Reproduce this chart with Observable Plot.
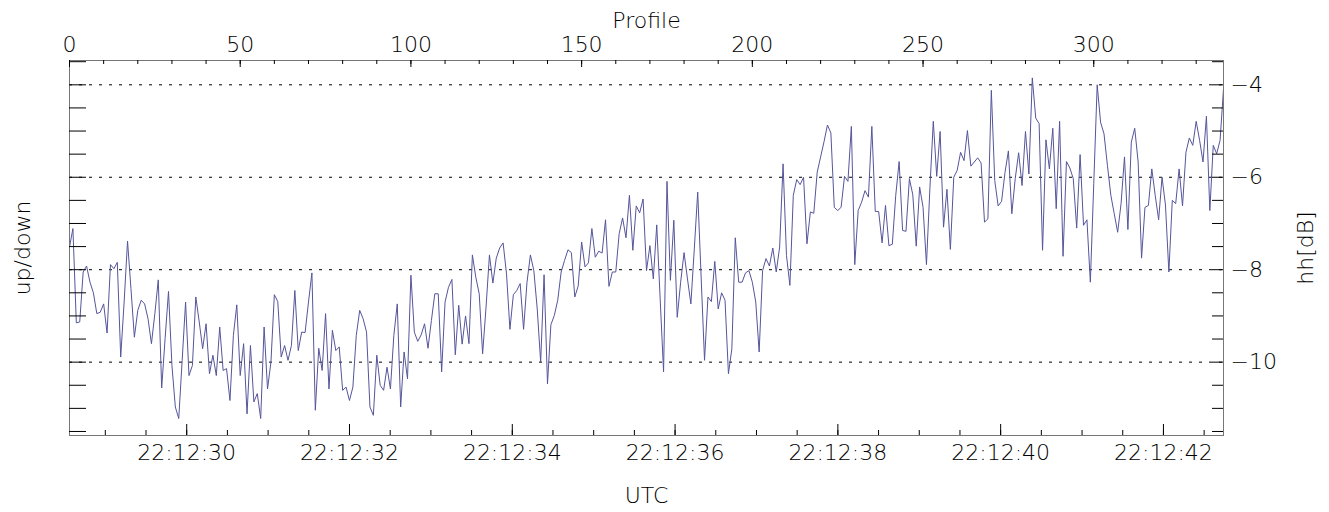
<!DOCTYPE html>
<html>
<head>
<meta charset="utf-8">
<script src="https://cdn.jsdelivr.net/npm/d3@7"></script>
<script src="https://cdn.jsdelivr.net/npm/@observablehq/plot@0.6"></script>
<style>
  html, body { margin: 0; padding: 0; background: #fff; }
</style>
</head>
<body>
<div id="chart"></div>
<script>
// hh [dB] per profile (profile number = index, 0..338)
const hhValues = [
 -7.51,-7.11,-9.15,-9.13,-8.05,-7.92,-8.27,-8.50,-8.95,-8.92,
 -8.74,-9.37,-7.89,-7.98,-7.84,-9.89,-8.70,-7.38,-8.41,-9.46,
 -8.88,-8.66,-8.74,-9.06,-9.60,-8.95,-8.22,-10.56,-9.49,-8.47,
 -10.07,-10.97,-11.22,-9.96,-8.70,-10.29,-10.07,-8.59,-9.13,-9.71,
 -9.17,-10.25,-9.85,-10.29,-9.24,-10.18,-10.14,-10.83,-9.42,-8.76,
 -10.29,-9.60,-11.12,-9.64,-10.86,-10.68,-11.22,-9.24,-10.58,-10.00,
 -8.54,-8.69,-9.89,-9.64,-9.96,-9.64,-8.45,-9.75,-9.35,-9.36,
 -8.70,-8.07,-11.04,-9.70,-10.18,-8.95,-10.58,-9.31,-9.75,-9.67,
 -10.61,-10.54,-10.83,-10.54,-9.42,-8.88,-9.06,-9.35,-10.97,-11.15,
 -9.85,-10.50,-10.61,-10.11,-10.58,-9.42,-8.74,-10.97,-9.78,-10.36,
 -8.12,-9.35,-9.55,-9.41,-9.17,-9.70,-9.10,-8.52,-8.52,-10.21,
 -8.70,-8.38,-8.21,-9.84,-8.77,-9.61,-9.00,-9.60,-7.68,-8.16,
 -8.52,-9.82,-8.81,-7.68,-8.29,-7.75,-7.53,-7.42,-8.09,-9.29,
 -8.54,-8.45,-8.30,-9.29,-8.27,-7.68,-8.02,-8.85,-10.00,-8.11,
 -10.47,-9.19,-8.99,-8.66,-8.05,-7.80,-7.57,-7.63,-8.59,-8.35,
 -7.40,-7.94,-7.85,-7.11,-7.73,-7.60,-7.64,-6.92,-8.36,-8.05,
 -8.05,-7.22,-6.88,-7.31,-6.39,-7.58,-6.62,-6.77,-6.47,-8.02,
 -7.48,-8.20,-7.03,-8.63,-10.21,-6.09,-8.23,-6.93,-9.03,-8.27,
 -7.63,-8.20,-8.74,-7.55,-6.32,-8.16,-9.96,-8.59,-8.69,-7.82,
 -8.85,-8.50,-8.66,-10.25,-9.71,-7.31,-8.27,-8.27,-8.07,-8.02,
 -8.27,-8.70,-9.78,-8.02,-7.76,-7.92,-7.53,-8.05,-7.51,-5.71,
 -7.69,-8.34,-6.39,-6.05,-6.16,-6.00,-7.44,-6.75,-6.78,-5.89,
 -5.56,-5.23,-4.87,-5.04,-6.65,-6.72,-6.65,-5.98,-6.09,-4.90,
 -7.89,-6.72,-6.54,-6.29,-6.43,-4.90,-6.74,-6.74,-7.42,-6.61,
 -7.48,-7.45,-6.39,-5.66,-7.15,-7.17,-6.03,-6.38,-7.49,-6.21,
 -6.65,-7.89,-6.25,-4.79,-5.98,-5.01,-7.08,-6.26,-7.56,-6.00,
 -5.85,-5.46,-5.64,-4.99,-5.76,-5.67,-5.58,-5.69,-6.97,-6.90,
 -4.12,-6.07,-6.62,-6.52,-5.90,-5.43,-6.79,-6.03,-5.47,-6.18,
 -5.01,-5.93,-3.85,-4.72,-4.84,-7.58,-5.19,-5.82,-4.94,-6.68,
 -4.79,-7.71,-5.66,-5.80,-6.03,-7.10,-5.51,-7.04,-6.92,-8.27,
 -6.14,-4.00,-4.81,-5.06,-5.74,-6.39,-6.79,-7.19,-6.57,-5.56,
 -7.13,-5.24,-4.94,-5.67,-7.75,-6.65,-6.61,-5.82,-6.39,-6.92,
 -6.00,-6.60,-8.05,-6.50,-6.57,-5.82,-6.62,-5.46,-5.15,-5.31,
 -4.79,-5.20,-5.67,-4.68,-6.72,-5.31,-5.49,-5.20,-4.09
];

// Top axis (Profile)
const profileLabels = [0, 50, 100, 150, 200, 250, 300];
const profileMinorTicks = d3.range(0, 331, 10);

// Bottom axis (UTC): seconds after 22:12:00
const utcStartSeconds = 28.56;     // time of profile 0
const profilesPerSecond = 23.84;
const utcMajorSeconds = [30, 32, 34, 36, 38, 40, 42];
const utcLabels = ["22:12:30", "22:12:32", "22:12:34", "22:12:36", "22:12:38", "22:12:40", "22:12:42"];
const utcMinorSeconds = d3.range(29, 42.51, 0.5);

// Right axis (hh[dB])
const hhTickValues = [-4, -6, -8, -10];
const hhTickLabels = ["\u22124", "\u22126", "\u22128", "\u221210"];
const hhMinorTicks = d3.range(-11.5, -3.49, 0.5);

const data = hhValues.map((v, i) => ({profile: i, hh: v}));
const toProfile = s => (s - utcStartSeconds) * profilesPerSecond;

const W = 1329, H = 512;
const mL = 69, mR = 106, mT = 60, mB = 77;
const pw = W - mL - mR, ph = H - mT - mB;

const chart = Plot.plot({
  width: W, height: H,
  marginLeft: mL, marginRight: mR, marginTop: mT, marginBottom: mB,
  x: {domain: [0, hhValues.length - 1], axis: null},
  y: {domain: [-11.587, -3.474], axis: null},
  style: {fontFamily: "'DejaVu Sans', sans-serif", fontSize: "22px", background: "#fff", color: "#000"},
  marks: [
    Plot.ruleY(hhTickValues, {stroke: "#000", strokeDasharray: "3,7", strokeWidth: 1}),
    Plot.line(data, {x: "profile", y: "hh", stroke: "#55559b", strokeWidth: 1}),
    Plot.frame({stroke: "#777"}),
    // left & right ticks
    Plot.tickY(hhMinorTicks, {stroke: "#000", insetRight: pw - 17}),
    Plot.tickY(hhMinorTicks, {stroke: "#000", insetLeft: pw - 11}),
    // top ticks
    Plot.tickX(profileMinorTicks, {stroke: "#000", insetBottom: ph - 4}),
    Plot.tickX(profileLabels, {stroke: "#000", insetBottom: ph - 7}),
    // bottom ticks
    Plot.tickX(utcMinorSeconds, {x: toProfile, stroke: "#000", insetTop: ph - 5}),
    Plot.tickX(utcMajorSeconds, {x: toProfile, stroke: "#000", insetTop: ph - 11}),
    // tick labels
    Plot.text(profileLabels, {x: d => d, text: d => String(d), frameAnchor: "top", lineAnchor: "bottom", dy: -9, fontWeight: 200}),
    Plot.text(utcMajorSeconds, {x: toProfile, text: (d, i) => utcLabels[i], frameAnchor: "bottom", lineAnchor: "top", dy: 9, fontWeight: 200}),
    Plot.text(hhTickValues, {y: d => d, text: (d, i) => hhTickLabels[i], frameAnchor: "right", textAnchor: "start", dx: 7, fontWeight: 200}),
    // axis titles
    Plot.text(["Profile"], {frameAnchor: "top", lineAnchor: "bottom", dy: -33, fontWeight: 200}),
    Plot.text(["UTC"], {frameAnchor: "bottom", lineAnchor: "top", dy: 52, fontWeight: 200}),
    Plot.text(["up/down"], {frameAnchor: "left", textAnchor: "middle", lineAnchor: "middle", rotate: -90, dx: -47, fontWeight: 200}),
    Plot.text(["hh[dB]"], {frameAnchor: "right", textAnchor: "middle", lineAnchor: "middle", rotate: -90, dx: 82, fontWeight: 200})
  ]
});
document.getElementById("chart").appendChild(chart);
</script>
</body>
</html>
